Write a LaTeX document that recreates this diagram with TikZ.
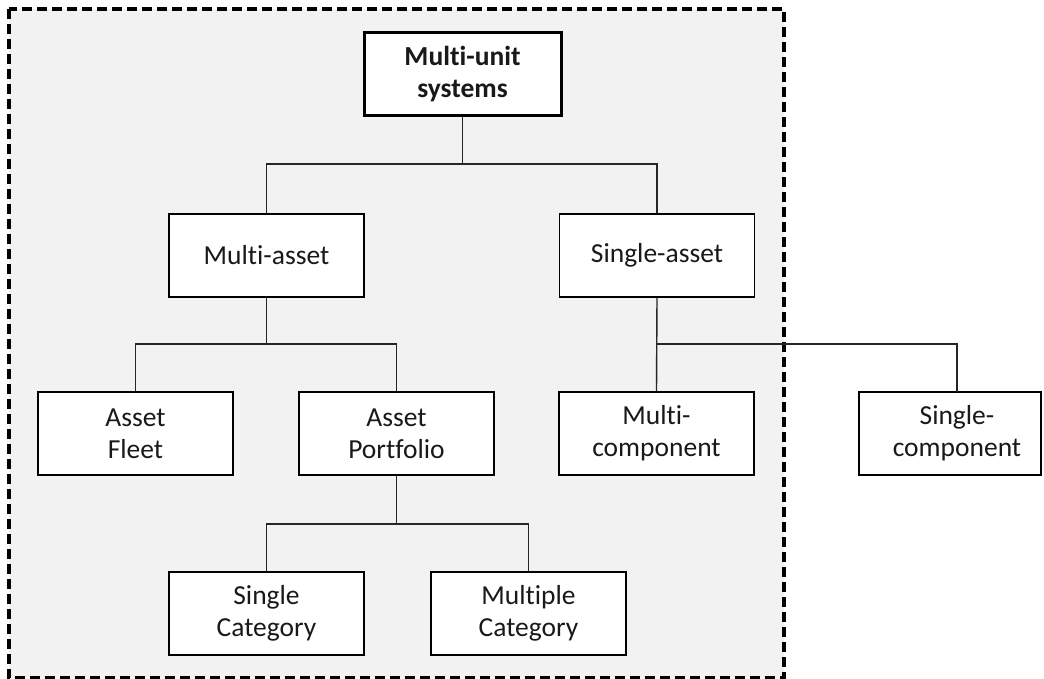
\documentclass[tikz,border=0pt]{standalone}
\usepackage{fontspec}
\setmainfont{Carlito}[Ligatures=NoCommon]
\begin{document}
\begin{tikzpicture}[x=1pt,y=-1pt,
  box/.style={draw=black, line width=1.4pt, fill=white, minimum width=195pt,
    minimum height=83pt, align=center, inner sep=0pt, text=black!90,
    font=\fontsize{27.5}{32}\selectfont},
  topbox/.style={box, line width=3pt, minimum width=197pt, font=\fontsize{27.5}{32}\selectfont\bfseries},
  link/.style={draw=black!85, line width=1.4pt},
  frame/.style={draw=black, line width=3.2pt, dash pattern=on 10pt off 5pt, fill=black!5}]
\useasboundingbox (0,0) rectangle (1044,679);

% dashed region grouping the multi-unit classes
\path[frame] (9,9) rectangle (784,678);

% class boxes
\node[topbox] (top) at (462.5,74.5) {Multi-unit\\systems};
\node[box] (ma) at (266.5,255.5) {Multi-asset};
\node[box] (sa) at (657,255.5) {Single-asset};
\node[box] (fleet) at (135.5,433.5) {Asset\\Fleet};
\node[box] (port) at (396.5,433.5) {Asset\\Portfolio};
\node[box] (mc) at (656.5,433.5) {Multi-\\component};
\node[box, minimum width=182pt,
  label={[xshift=7pt, align=center, font=\fontsize{27.5}{32}\selectfont, text=black!90]center:Single-\\component}]
  (sc) at (950,433.5) {};
\node[box] (scat) at (266.5,613.5) {Single\\Category};
\node[box] (mcat) at (528.5,613.5) {Multiple\\Category};

% junction points of the tree
\coordinate (j1) at (462.5,164);
\coordinate (j2) at (266.5,344);
\coordinate (j3) at (657,344);
\coordinate (j4) at (396.5,524);
\coordinate (sctop) at (957,392);

% connectors
\draw[link] (top.south) -- (j1);
\draw[link] (ma.north) -- (ma.north |- j1) -- (sa.north |- j1) -- (sa.north);
\draw[link] (ma.south) -- (j2);
\draw[link] (fleet.north) -- (fleet.north |- j2) -- (port.north |- j2) -- (port.north);
\draw[link] (sa.south) -- (mc.north);
\draw[link] (j3) -- (sctop |- j3) -- (sctop);
\draw[link] (port.south) -- (j4);
\draw[link] (scat.north) -- (scat.north |- j4) -- (mcat.north |- j4) -- (mcat.north);
\end{tikzpicture}
\end{document}
